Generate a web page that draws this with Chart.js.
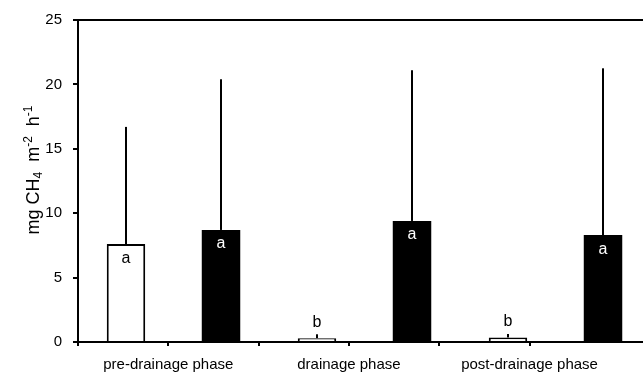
<!DOCTYPE html>
<html>
<head>
<meta charset="utf-8">
<script src="https://cdn.jsdelivr.net/npm/chart.js@4.4.0/dist/chart.umd.min.js"></script>
<style>
html,body{margin:0;padding:0;background:#fff;overflow:hidden;}
#wrap{width:660px;height:374px;}
</style>
</head>
<body>
<div id="wrap"><canvas id="ch4Chart" width="660" height="374"></canvas></div>
<script>
// data
const phases=['pre-drainage phase','drainage phase','post-drainage phase'];
const openMeans=[7.6,0.3,0.35];
const openSd=[9.1,0.3,0.27];
const openLetters=['a','b','b'];
const filledMeans=[8.7,9.4,8.3];
const filledSd=[11.7,11.7,12.95];
const filledLetters=['a','a','a'];
const yTicks=[0,5,10,15,20,25];
const phaseTickPos=[1,3,5]; // label ticks on the lower axis

const FONT='"Liberation Sans", Arial, sans-serif';
Chart.defaults.font.family=FONT;
Chart.defaults.font.size=15;
Chart.defaults.color='#000';

// error bars (upper only) + letters
const annot={
  id:'annot',
  afterDatasetsDraw(chart){
    const ctx=chart.ctx, y=chart.scales.y;
    chart.data.datasets.forEach((ds,i)=>{
      const meta=chart.getDatasetMeta(i);
      meta.data.forEach((bar,j)=>{
        const top=y.getPixelForValue(ds.data[j]+ds.sd[j]);
        ctx.save();
        ctx.strokeStyle='#000';
        ctx.lineWidth=2;
        ctx.beginPath();
        ctx.moveTo(bar.x,bar.y);
        ctx.lineTo(bar.x,top);
        ctx.stroke();
        ctx.font='16px '+FONT;
        ctx.textAlign='center';
        ctx.textBaseline='middle';
        const inside=(bar.base-bar.y)>30;
        ctx.fillStyle=inside?ds.letterColor:'#000';
        ctx.fillText(ds.letters[j],bar.x,inside?bar.y+14:bar.y-16);
        ctx.restore();
      });
    });
  }
};

// y title with sub/superscripts
const yTitle={
  id:'yTitle',
  afterDraw(chart){
    const ctx=chart.ctx;
    const parts=[['mg CH',0],['4',1],['  m',0],['-2',-1],['  h',0],['-1',-1]];
    const big='18px '+FONT, small='12px '+FONT;
    let total=0;
    parts.forEach(p=>{ctx.font=p[1]?small:big;total+=ctx.measureText(p[0]).width;});
    ctx.save();
    ctx.translate(39,170);
    ctx.rotate(-Math.PI/2);
    ctx.fillStyle='#000';
    ctx.textBaseline='alphabetic';
    let x=-total/2;
    parts.forEach(p=>{
      ctx.font=p[1]?small:big;
      ctx.fillText(p[0],x,p[1]===1?3:(p[1]===-1?-7:0));
      x+=ctx.measureText(p[0]).width;
    });
    ctx.restore();
  }
};

new Chart(document.getElementById('ch4Chart'),{
  type:'bar',
  data:{
    labels:phases,
    datasets:[
      {data:openMeans,sd:openSd,letters:openLetters,letterColor:'#000',
       backgroundColor:'#fff',borderColor:'#000',borderWidth:2,
       categoryPercentage:0.995,barPercentage:0.405},
      {data:filledMeans,sd:filledSd,letters:filledLetters,letterColor:'#fff',
       backgroundColor:'#000',borderColor:'#000',borderWidth:0,
       categoryPercentage:0.995,barPercentage:0.405}
    ]
  },
  options:{
    responsive:false,
    animation:false,
    layout:{padding:{top:18,right:9,left:0,bottom:0}},
    plugins:{legend:{display:false},tooltip:{enabled:false}},
    scales:{
      x:{type:'category',display:false},
      xl:{
        type:'linear',position:'bottom',min:0,max:6.345,offset:false,
        afterBuildTicks(s){s.ticks=s.ticks.filter(t=>Number.isInteger(t.value));},
        afterFit(s){s.height=32;},
        border:{color:'#000',width:2},
        grid:{offset:false,drawOnChartArea:false,drawTicks:true,tickLength:4,lineWidth:2,color:'#000'},
        ticks:{stepSize:1,autoSkip:false,maxRotation:0,padding:10,font:{size:15},
          callback(v){const k=phaseTickPos.indexOf(v);return k>=0?phases[k]:'';}}
      },
      xTop:{
        type:'linear',position:'top',min:0,max:1,offset:false,
        afterFit(s){s.height=0;},
        border:{color:'#000',width:2},
        grid:{display:false,offset:false},
        ticks:{display:false}
      },
      y:{
        min:0,max:25,
        afterBuildTicks(s){s.ticks=yTicks.map(v=>({value:v}));},
        afterFit(s){s.width=78;},
        border:{color:'#000',width:2},
        grid:{drawOnChartArea:false,drawTicks:true,tickLength:5,lineWidth:2,color:'#000'},
        ticks:{padding:11,font:{size:15}}
      }
    }
  },
  plugins:[annot,yTitle]
});
</script>
</body>
</html>
